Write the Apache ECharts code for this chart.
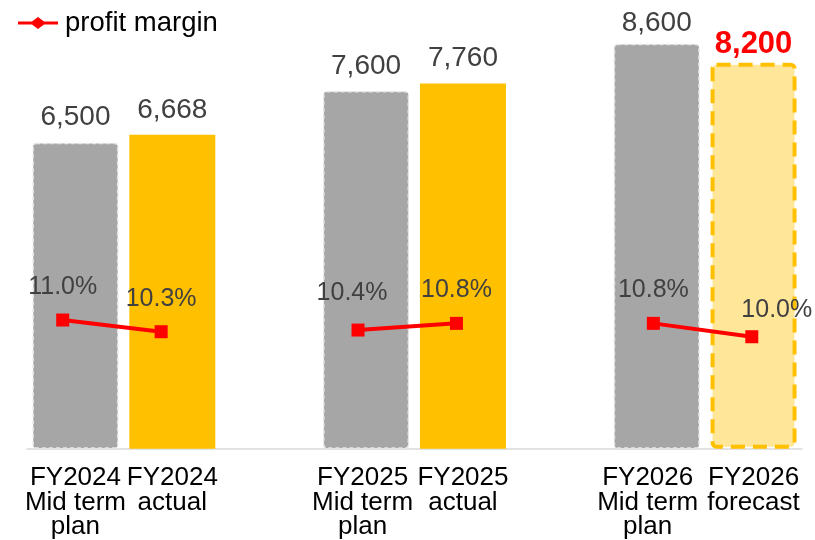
<!DOCTYPE html>
<html>
<head>
<meta charset="utf-8">
<script src="https://cdn.jsdelivr.net/npm/echarts@6/dist/echarts.min.js"></script>
<style>
  html, body { margin: 0; padding: 0; background: #fff; }
  #chart { width: 815px; height: 540px; }
</style>
</head>
<body>
<div id="chart"></div>
<script>
// Sales by fiscal year (plan / actual / forecast) with profit margin line.
// Empty categories leave the gaps between the year groups.
const categories = [
  'FY2024\nMid term\nplan', 'FY2024\nactual', '',
  'FY2025\nMid term\nplan', 'FY2025\nactual', '',
  'FY2026\nMid term\nplan', 'FY2026\nforecast'
];
const sales = [6500, 6668, null, 7600, 7760, null, 8600, 8200];
const profitMargin = [11.0, 10.3, null, 10.4, 10.8, null, 10.8, 10.0];
const lineName = 'profit margin';

const FONT = '"Liberation Sans", Arial, sans-serif';

function barKind(label) {
  if (label.indexOf('Mid term') >= 0) return 'plan';
  if (label.indexOf('forecast') >= 0) return 'forecast';
  return 'actual';
}

// value labels that sit a little lower than the default spacing
const valueLabelNudge = { 6: [0, 4] };

const barData = sales.map((v, i) => {
  if (v == null) return null;
  const kind = barKind(categories[i]);
  let item;
  if (kind === 'plan') {
    item = {
      value: v,
      itemStyle: {
        color: '#A6A6A6', borderColor: '#E6E6E6', borderWidth: 1.5,
        borderType: [4, 3], borderRadius: 3
      }
    };
  } else if (kind === 'forecast') {
    item = {
      value: v,
      itemStyle: {
        color: '#FFE699', borderColor: '#FFC000', borderWidth: 4,
        borderType: [14, 8], borderRadius: 4
      },
      label: {
        color: '#FF0000', fontWeight: 'bold', fontSize: 31, distance: 3
      }
    };
  } else {
    item = { value: v, itemStyle: { color: '#FFC000' } };
  }
  if (valueLabelNudge[i]) {
    item.label = Object.assign({}, item.label, { offset: valueLabelNudge[i] });
  }
  return item;
});

// small nudges for margin labels that sit off-centre
const labelNudge = { 3: [-6, -4], 7: [25, 6] };
const lineData = profitMargin.map((v, i) => {
  if (v == null) return null;
  const item = { value: v };
  if (labelNudge[i]) item.label = { offset: labelNudge[i] };
  return item;
});

// category labels of the plan columns sit slightly left of the bar centre
const axisLabelShift = { 3: 7, 6: 18 };
const richStyles = {};
categories.forEach((c, i) => {
  richStyles['c' + i] = {
    fontFamily: FONT, fontSize: 26, lineHeight: 24.5, color: '#000000',
    padding: [0, axisLabelShift[i] || 0, 0, 0]
  };
});

const chart = echarts.init(document.getElementById('chart'), null, { renderer: 'canvas' });
chart.setOption({
  animation: false,
  backgroundColor: '#ffffff',
  textStyle: { fontFamily: FONT },
  legend: {
    data: [lineName],
    left: 13, top: 4,
    itemWidth: 40, itemHeight: 12,
    icon: 'path://M0,4.5 L14,4.5 L20,0 L26,4.5 L40,4.5 L40,7.5 L26,7.5 L20,12 L14,7.5 L0,7.5 Z',
    itemStyle: { color: '#FF0000' },
    textStyle: { fontFamily: FONT, fontSize: 27.5, color: '#000000', padding: [0, 0, 0, 2] }
  },
  grid: [
    { left: 27, right: 13, top: 25, bottom: 90 },
    { left: 13.5, right: 14, top: 25, bottom: 90 }
  ],
  xAxis: [
    {
      type: 'category', gridIndex: 0, data: categories,
      axisLine: { lineStyle: { color: '#D9D9D9', width: 1.5 } },
      axisTick: { show: false },
      axisLabel: {
        interval: 0, margin: 17, color: '#000000', fontFamily: FONT,
        fontSize: 26, lineHeight: 24.5,
        formatter: (value, idx) => value === '' ? '' :
          value.split('\n').map(s => '{c' + idx + '|' + s + '}').join('\n'),
        rich: richStyles
      }
    },
    {
      type: 'category', gridIndex: 1, data: categories, show: false
    }
  ],
  yAxis: [
    { type: 'value', gridIndex: 0, min: 0, max: 9000, show: false, splitLine: { show: false } },
    { type: 'value', gridIndex: 1, min: 3.22, max: 28.66, show: false, splitLine: { show: false } }
  ],
  series: [
    {
      type: 'bar', name: 'sales', xAxisIndex: 0, yAxisIndex: 0,
      data: barData, barWidth: 86,
      label: {
        show: true, position: 'top', distance: 11,
        fontFamily: FONT, fontSize: 28, color: '#404040',
        formatter: p => p.value.toLocaleString('en-US')
      }
    },
    {
      type: 'line', name: lineName, xAxisIndex: 1, yAxisIndex: 1,
      data: lineData, connectNulls: false,
      symbol: 'rect', symbolSize: 13,
      lineStyle: { color: '#FF0000', width: 4 },
      itemStyle: { color: '#FF0000' },
      label: {
        show: true, position: 'top', distance: 14,
        fontFamily: FONT, fontSize: 25, color: '#404040',
        formatter: p => p.value.toFixed(1) + '%'
      },
      z: 5
    }
  ]
});
</script>
</body>
</html>
